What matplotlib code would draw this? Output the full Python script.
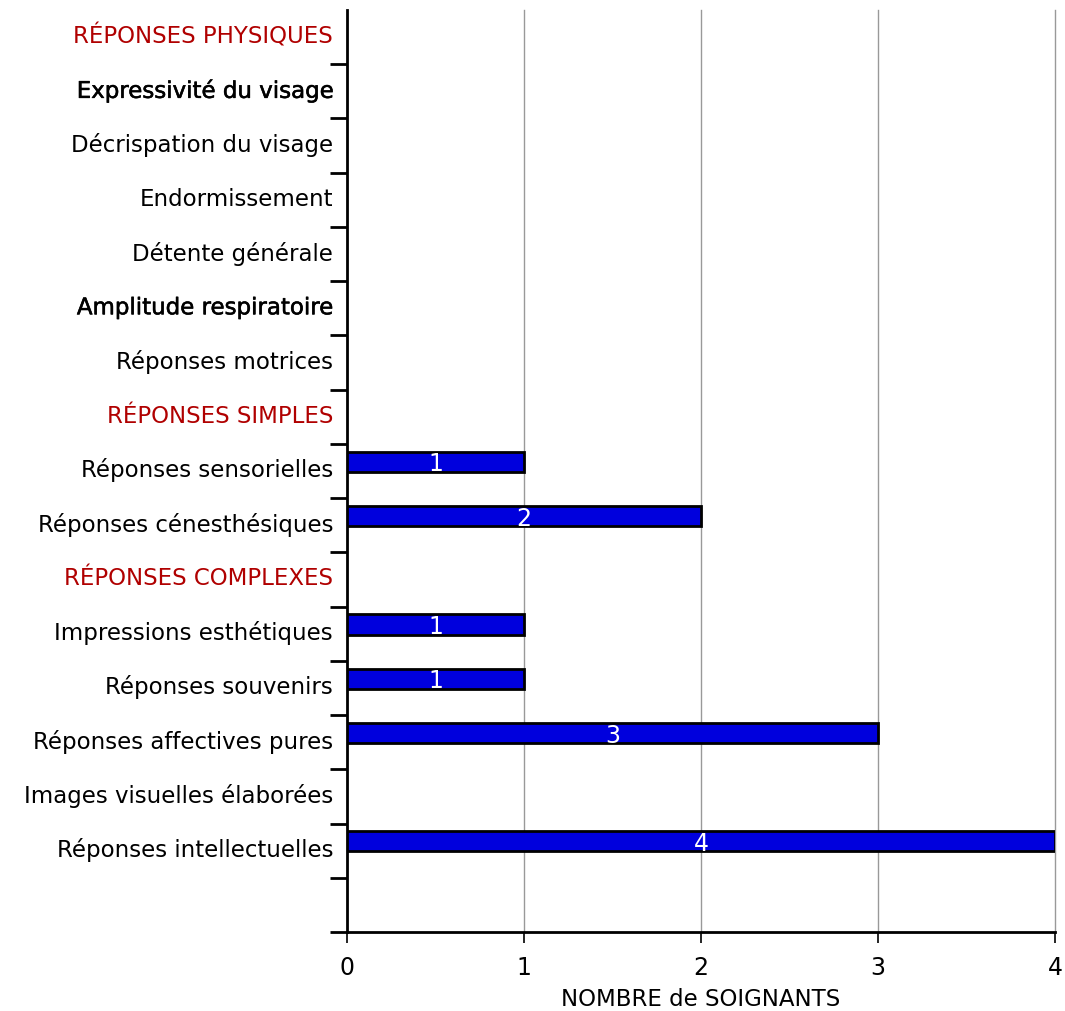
import numpy as np
import matplotlib
matplotlib.use("Agg")
import matplotlib.pyplot as plt
import matplotlib.patheffects as pe
import matplotlib.transforms as mtransforms

#==========================
# DATA
#==========================
categories = ["RÉPONSES PHYSIQUES", "Expressivité du visage", "Décrispation du visage",
              "Endormissement", "Détente générale", "Amplitude respiratoire",
              "Réponses motrices", "RÉPONSES SIMPLES", "Réponses sensorielles",
              "Réponses cénesthésiques", "RÉPONSES COMPLEXES", "Impressions esthétiques",
              "Réponses souvenirs", "Réponses affectives pures",
              "Images visuelles élaborées", "Réponses intellectuelles"]
values = [0, 0, 0, 0, 0, 0, 0, 0, 1, 2, 0, 1, 1, 3, 0, 4]
headers = ["RÉPONSES PHYSIQUES", "RÉPONSES SIMPLES", "RÉPONSES COMPLEXES"]
heavier = ["Expressivité du visage", "Amplitude respiratoire"]
xticks = [0, 1, 2, 3, 4]

#==========================
# FIGURE
#==========================
fig = plt.figure(figsize=(10.65, 10.11), dpi=100)
ax = fig.add_axes([347/1065, 1-932/1011, (1055-347)/1065, (932-10)/1011])

n = len(categories)
ypos = np.arange(n)
nrows = n + 1  # empty row at the bottom

for t in xticks[1:]:
    ax.axvline(t, color='#999999', lw=1, zorder=0, clip_on=False)

bh = 0.37
off = -0.17
for y, v in zip(ypos, values):
    if v > 0:
        ax.barh(y + off, v, height=bh, color='#0000DD', edgecolor='black', lw=2, zorder=3)
        ax.text(v/2, y + off + 0.05, str(v), color='white', ha='center', va='center',
                fontsize=17, zorder=4)

ax.set_xlim(0, 4)
ax.set_ylim(nrows - 0.5, -0.5)

# boundary ticks (major) and labels (minor)
ax.set_yticks(np.arange(0.5, nrows, 1))
ax.set_yticklabels([])
ax.set_yticks(ypos, minor=True)
ax.set_yticklabels(categories, minor=True, fontsize=16.5)
ax.tick_params(axis='y', which='major', length=12, width=2, direction='out')
ax.tick_params(axis='y', which='minor', length=0, pad=10)
shift = mtransforms.ScaledTranslation(0, 3/100, fig.dpi_scale_trans)
for lab in ax.get_yticklabels(minor=True):
    lab.set_transform(lab.get_transform() + shift)
    if lab.get_text() in headers:
        lab.set_color('#B00000')
    if lab.get_text() in heavier:
        lab.set_path_effects([pe.withStroke(linewidth=0.4, foreground='black')])

ax.set_xticks(xticks)
ax.set_xticklabels([str(t) for t in xticks], fontsize=17)
ax.tick_params(axis='x', length=8, width=1.2, pad=9)
ax.set_xlabel("NOMBRE de SOIGNANTS", fontsize=16.5, labelpad=6)

ax.spines['top'].set_visible(False)
ax.spines['right'].set_visible(False)
ax.spines['left'].set_linewidth(2)
ax.spines['bottom'].set_linewidth(2)

fig.savefig("out.png", dpi=100)
